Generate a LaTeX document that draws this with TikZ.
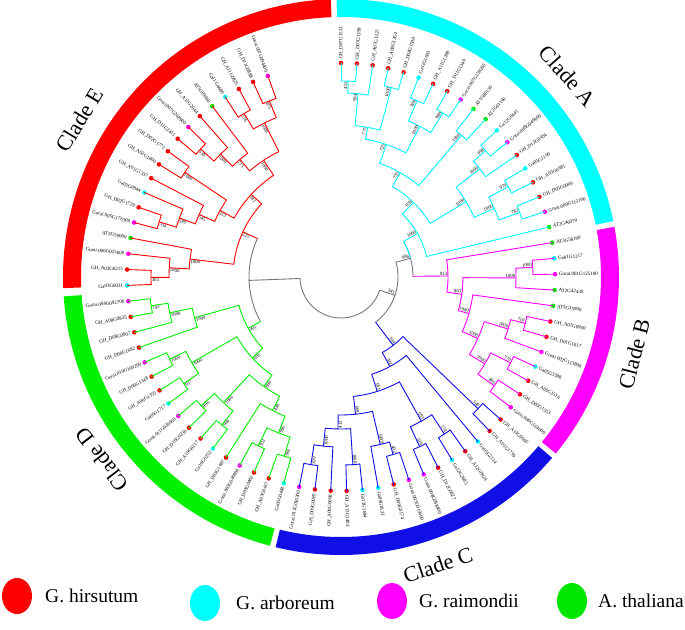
\documentclass[tikz,border=0pt]{standalone}
\usepackage{fontspec}
\setmainfont{Liberation Serif}
\usepackage{tikz}
\usetikzlibrary{shapes.geometric}
\usepackage{xcolor}
\definecolor{cladeA}{RGB}{0,255,255}
\definecolor{cladeB}{RGB}{255,0,255}
\definecolor{cladeC}{RGB}{15,15,230}
\definecolor{cladeD}{RGB}{0,240,0}
\definecolor{cladeE}{RGB}{255,0,0}
\definecolor{rootgrey}{RGB}{120,120,120}
\definecolor{spGH}{RGB}{255,0,0}
\definecolor{spGA}{RGB}{0,255,255}
\definecolor{spGR}{RGB}{255,0,255}
\definecolor{spAT}{RGB}{0,230,0}

% leaf k sits at 90-(k-1)*4.25 degrees on radius 214
\newcommand{\setleaf}[4]{%
  \pgfmathsetmacro{\lfang}{90-(#1-1)*4.25}%
  \expandafter\xdef\csname tang@L#1\endcsname{\lfang}%
  \expandafter\xdef\csname trad@L#1\endcsname{214}%
  \expandafter\xdef\csname tcol@L#1\endcsname{#2}%
  \node[leafdot, fill=#3] (L#1) at (\lfang:214) {};
  \ifdim\lfang pt<-90pt
    \node[leaftext, anchor=east, rotate=\lfang+180] at (\lfang:217.5) {#4};
  \else
    \node[leaftext, anchor=west, rotate=\lfang] at (\lfang:217.5) {#4};
  \fi
}
% inner node: name, radius, child, child, bootstrap, colour
\newcommand{\clade}[6]{%
  \edef\cfa{\csname tang@#3\endcsname}%
  \edef\cfb{\csname tang@#4\endcsname}%
  \edef\cra{\csname trad@#3\endcsname}%
  \edef\crb{\csname trad@#4\endcsname}%
  \edef\cca{\csname tcol@#3\endcsname}%
  \edef\ccb{\csname tcol@#4\endcsname}%
  \pgfmathsetmacro{\cfm}{(\cfa+\cfb)/2}%
  \expandafter\xdef\csname tang@#1\endcsname{\cfm}%
  \expandafter\xdef\csname trad@#1\endcsname{#2}%
  \expandafter\xdef\csname tcol@#1\endcsname{#6}%
  \draw[branch, color=#6] (\cfa:#2) arc[start angle=\cfa, end angle=\cfb, radius=#2];
  \draw[branch, color=\cca] (\cfa:#2) -- (\cfa:\cra);
  \draw[branch, color=\ccb] (\cfb:#2) -- (\cfb:\crb);
  \coordinate (#1) at (\cfm:#2);
  \ifdim\cfm pt<-90pt
    \node[boot, anchor=north west, rotate=\cfm+180] at (#1) {#5};
  \else
    \node[boot, anchor=south east, rotate=\cfm] at (#1) {#5};
  \fi
}

\tikzset{
  branch/.style={line width=0.9pt, line cap=round},
  leafdot/.style={circle, inner sep=0pt, minimum size=4.6pt},
  leaftext/.style={font=\fontsize{5}{6}\selectfont, inner sep=0.4pt},
  boot/.style={font=\fontsize{4.8}{5.5}\selectfont, inner sep=0.6pt},
  cladetext/.style={font=\fontsize{22}{26}\selectfont},
  keydot/.style={ellipse, inner sep=0pt, minimum width=30pt, minimum height=36pt},
  keytext/.style={font=\fontsize{19.5}{23}\selectfont, anchor=west, inner sep=0pt}
}

\begin{document}
\begin{tikzpicture}[x=1pt, y=1pt]
  \useasboundingbox (-341,-352) rectangle (344,277);

  % --- outer ring ---
  \foreach \ra/\rb/\rc in {11.6/90.9/cladeA, -39.4/10.4/cladeB, -103.6/-40.6/cladeC,
                           -176/-104.8/cladeD, -267.9/-177.7/cladeE}
    \fill[fill=\rc] (\ra:278) arc[start angle=\ra, end angle=\rb, radius=278]
      -- (\rb:260) arc[start angle=\rb, end angle=\ra, radius=260] -- cycle;

  \node[cladetext, rotate=-48.4] (labA) at (41.6:303) {Clade A};
  \node[cladetext, rotate=75.3] (labB) at (-14.7:303) {Clade B};
  \node[cladetext, rotate=18.6] (labC) at (-71.4:304) {Clade C};
  \node[cladetext, rotate=127.4] (labD) at (217.4:301) {Clade D};
  \node[cladetext, rotate=59] (labE) at (149:305) {Clade E};

  % --- leaves ---
  \foreach \k/\sp/\txt in {1/spGH/GH\_D07G1531, 2/spGH/GH\_D07G1398, 3/spGH/GH\_A07G1327,
      4/spGH/GH\_A08G1364, 5/spGH/GH\_D08G1500, 6/spGA/Ga11G1603, 7/spGH/GH\_A11G1208,
      8/spGH/GH\_D11G1340, 9/spGR/Gorai.007G139200, 10/spAT/AT1G80130, 11/spAT/AT2G01160,
      12/spGA/Ga12G0441, 13/spGR/Gorai.008G049600, 14/spGH/GH\_D12G0434, 15/spGA/Ga05G1109,
      16/spGH/GH\_A05G0981, 17/spGH/GH\_D05G0906, 18/spGR/Gorai.009G115100, 19/spAT/AT2G46070}
    \setleaf{\k}{cladeA}{\sp}{\txt};
  \foreach \k/\sp/\txt in {20/spAT/AT3G58190, 21/spGA/Ga01G1217, 22/spGR/Gorai.001G125100,
      23/spAT/AT2G42430, 24/spAT/AT5G35900, 25/spGH/GH\_A01G0960, 26/spGH/GH\_D01G1017,
      27/spGR/Gorai.002G113800, 28/spGA/Ga05G3388, 29/spGH/GH\_A05G1516, 30/spGH/GH\_D05G1553,
      31/spGR/Gorai.009G163600}
    \setleaf{\k}{cladeB}{\sp}{\txt};
  \foreach \k/\sp/\txt in {32/spGH/GH\_A13G0605, 33/spGH/GH\_A01G1739, 34/spGA/Ga05G2114,
      35/spGH/GH\_A12G0924, 36/spGA/Ga12G2685, 37/spGH/GH\_D12G0927, 38/spGR/Gorai.008G098400,
      39/spGR/Gorai.005G015600, 40/spGH/GH\_D09G0174, 41/spGA/Ga09G0123, 42/spGA/Ga13G1694,
      43/spGH/GH\_A13G1403, 44/spGH/GH\_A09G0098, 45/spGH/GH\_D09G0085, 46/spGR/Gorai.013G010300}
    \setleaf{\k}{cladeC}{\sp}{\txt};
  \foreach \k/\sp/\txt in {47/spGA/Ga03G0448, 48/spGH/GH\_A03G0417, 49/spGH/GH\_D03G0402,
      50/spGR/Gorai.003G040900, 51/spGH/GH\_D03G1487, 52/spGA/Ga10G0252, 53/spGH/GH\_A10G0217,
      54/spGH/GH\_D10G0236, 55/spGR/Gorai.011G026600, 56/spGA/Ga06G1717, 57/spGH/GH\_A06G1355,
      58/spGH/GH\_D06G1348, 59/spGR/Gorai.010G160200, 60/spGH/GH\_D06G1682, 61/spGH/GH\_D08G0907,
      62/spGH/GH\_A08G0835, 63/spGR/Gorai.004G092700}
    \setleaf{\k}{cladeD}{\sp}{\txt};
  \foreach \k/\sp/\txt in {64/spGA/Ga03G0031, 65/spGH/GH\_A03G0215, 66/spGR/Gorai.006G025600,
      67/spAT/AT3G59060, 68/spGR/Gorai.005G176300, 69/spGH/GH\_D02G1729, 70/spGA/Ga02G0944,
      71/spGH/GH\_A01G1337, 72/spGH/GH\_A02G1400, 73/spGH/GH\_D02G1772, 74/spGH/GH\_D11G2411,
      75/spGR/Gorai.007G268900, 76/spGH/GH\_A11G2044, 77/spAT/AT5G09460, 78/spGA/Ga11G4680,
      79/spGH/GH\_A11G0825, 80/spGH/GH\_D11G0888, 81/spGR/Gorai.007G094400}
    \setleaf{\k}{cladeE}{\sp}{\txt};

  % --- Clade A ---
  \clade{A1}{196}{L1}{L2}{451}{cladeA}
  \clade{A2}{184}{A1}{L3}{994}{cladeA}
  \clade{A3}{196}{L4}{L5}{1000}{cladeA}
  \clade{A4}{152}{A2}{A3}{775}{cladeA}
  \clade{A5}{192}{L6}{L7}{969}{cladeA}
  \clade{A6}{193}{L8}{L9}{980}{cladeA}
  \clade{A7}{170}{A5}{A6}{1000}{cladeA}
  \clade{A8}{140}{A4}{A7}{725}{cladeA}
  \clade{A9}{186}{L10}{L11}{1000}{cladeA}
  \clade{A10}{120}{A8}{A9}{735}{cladeA}
  \clade{A11}{192}{L12}{L13}{998}{cladeA}
  \clade{A12}{176}{A11}{L14}{1000}{cladeA}
  \clade{A13}{190}{L15}{L16}{979}{cladeA}
  \clade{A14}{190}{L17}{L18}{782}{cladeA}
  \clade{A15}{168}{A13}{A14}{1000}{cladeA}
  \clade{A16}{146}{A12}{A15}{1000}{cladeA}
  \clade{A17}{104}{A10}{A16}{829}{cladeA}
  \clade{Aroot}{88}{A17}{L19}{1000}{cladeA}

  % --- Clade B ---
  \clade{B4}{192}{L21}{L22}{1000}{cladeB}
  \clade{B3}{175}{B4}{L23}{1000}{cladeB}
  \clade{B8}{190}{L25}{L26}{701}{cladeB}
  \clade{B7}{175}{B8}{L27}{1000}{cladeB}
  \clade{B9}{190}{L28}{L29}{770}{cladeB}
  \clade{B11}{188}{L30}{L31}{886}{cladeB}
  \clade{B10}{168}{B9}{B11}{1000}{cladeB}
  \clade{B6}{150}{B7}{B10}{1000}{cladeB}
  \clade{B5}{133}{L24}{B6}{1000}{cladeB}
  \clade{B2}{122}{B3}{B5}{863}{cladeB}
  \clade{Broot}{107}{L20}{B2}{913}{cladeB}

  % --- Clade C ---
  \clade{C1}{190}{L32}{L33}{540}{cladeC}
  \clade{C5}{188}{L35}{L36}{174}{cladeC}
  \clade{C6}{187}{L37}{L38}{619}{cladeC}
  \clade{C4}{165}{C5}{C6}{693}{cladeC}
  \clade{C13}{185}{L39}{L40}{492}{cladeC}
  \clade{C9}{172}{C13}{L41}{1000}{cladeC}
  \clade{C11}{188}{L42}{L43}{1000}{cladeC}
  \clade{C12}{190}{L45}{L46}{599}{cladeC}
  \clade{C10}{170}{L44}{C12}{1000}{cladeC}
  \clade{C8}{152}{C11}{C10}{412}{cladeC}
  \clade{C7}{138}{C9}{C8}{669}{cladeC}
  \clade{C3}{120}{C4}{C7}{181}{cladeC}
  \clade{C2}{102}{L34}{C3}{341}{cladeC}
  \clade{Croot}{86}{C1}{C2}{104}{cladeC}

  % --- Clade D ---
  \clade{D13}{188}{L47}{L48}{994}{cladeD}
  \clade{D12}{188}{L49}{L50}{932}{cladeD}
  \clade{D14}{168}{D13}{D12}{996}{cladeD}
  \clade{D15}{150}{D14}{L51}{438}{cladeD}
  \clade{D9}{190}{L52}{L53}{969}{cladeD}
  \clade{D8}{190}{L54}{L55}{996}{cladeD}
  \clade{D10}{172}{D9}{D8}{1000}{cladeD}
  \clade{D16}{134}{D15}{D10}{880}{cladeD}
  \clade{D6}{190}{L56}{L57}{937}{cladeD}
  \clade{D5}{190}{L58}{L59}{1000}{cladeD}
  \clade{D7}{172}{D6}{D5}{1000}{cladeD}
  \clade{D17}{120}{D16}{D7}{993}{cladeD}
  \clade{D2}{192}{L62}{L63}{743}{cladeD}
  \clade{D3}{175}{L61}{D2}{1000}{cladeD}
  \clade{D4}{152}{L60}{D3}{1000}{cladeD}
  \clade{Droot}{106}{D17}{D4}{991}{cladeD}

  % --- Clade E ---
  \clade{E14}{190}{L64}{L65}{303}{cladeE}
  \clade{E15}{172}{E14}{L66}{1000}{cladeE}
  \clade{E16}{152}{E15}{L67}{1000}{cladeE}
  \clade{E8}{190}{L68}{L69}{704}{cladeE}
  \clade{E9}{172}{E8}{L70}{549}{cladeE}
  \clade{E11}{155}{E9}{L71}{545}{cladeE}
  \clade{E10}{188}{L72}{L73}{1000}{cladeE}
  \clade{E12}{138}{E11}{E10}{313}{cladeE}
  \clade{E4}{190}{L74}{L75}{539}{cladeE}
  \clade{E5}{172}{E4}{L76}{1000}{cladeE}
  \clade{E6}{155}{E5}{L77}{715}{cladeE}
  \clade{E2}{190}{L78}{L79}{576}{cladeE}
  \clade{E1}{190}{L80}{L81}{875}{cladeE}
  \clade{E3}{172}{E2}{E1}{1000}{cladeE}
  \clade{E7}{140}{E6}{E3}{1000}{cladeE}
  \clade{E13}{122}{E12}{E7}{382}{cladeE}
  \clade{Eroot}{108}{E16}{E13}{225}{cladeE}

  % --- backbone ---
  \clade{N996}{72}{Aroot}{Broot}{996}{rootgrey}
  \edef\tmpm{\csname tang@N996\endcsname}\edef\tmpa{\csname tang@Aroot\endcsname}
  \draw[branch, cladeA] (N996) arc[start angle=\tmpm, end angle=\tmpa, radius=72];
  \clade{N341}{57}{N996}{Croot}{341}{rootgrey}
  \clade{Nleft}{92}{Droot}{Eroot}{}{rootgrey}
  \clade{Nroot}{41}{Nleft}{N341}{}{rootgrey}

  % --- legend ---
  \node[keydot, fill=spGH] (keyGH) at (-324,-319) {};
  \node[keytext] (txtGH) at (-296,-319) {G. hirsutum};
  \node[keydot, fill=spGA] (keyGA) at (-136,-326) {};
  \node[keytext] (txtGA) at (-105,-326) {G. arboreum};
  \node[keydot, fill=spGR] (keyGR) at (51,-324) {};
  \node[keytext] (txtGR) at (78,-324) {G. raimondii};
  \node[keydot, fill=spAT] (keyAT) at (231,-324) {};
  \node[keytext] (txtAT) at (257,-324) {A. thaliana};
\end{tikzpicture}
\end{document}
